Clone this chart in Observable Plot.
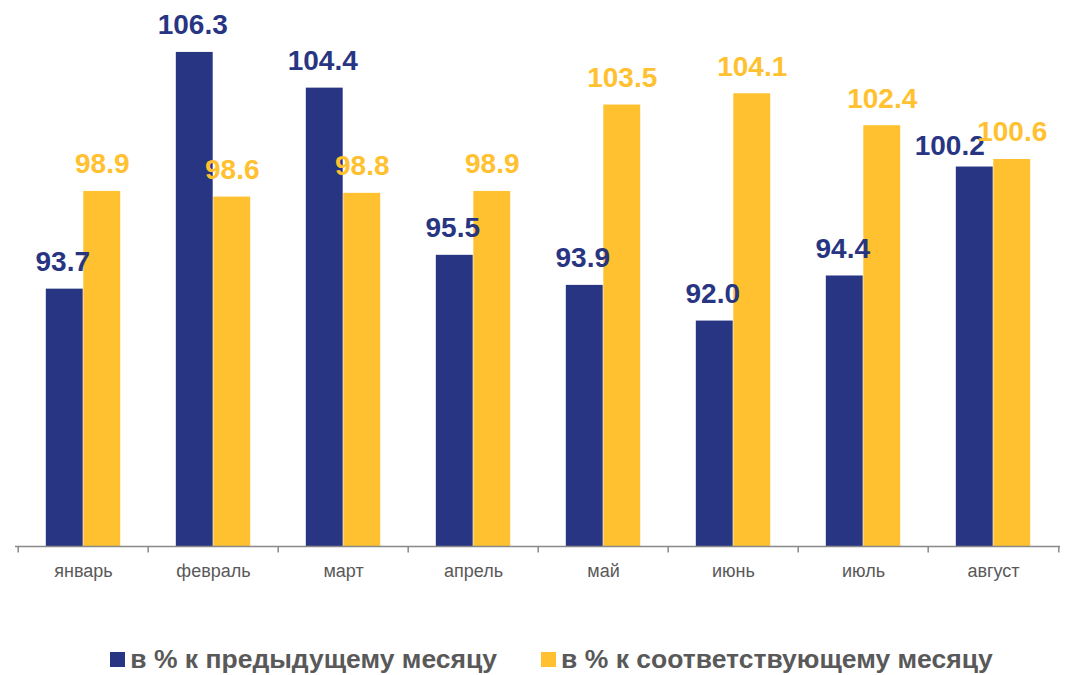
<!DOCTYPE html>
<html>
<head>
<meta charset="utf-8">
<script src="https://cdn.jsdelivr.net/npm/d3@7"></script>
<script src="https://cdn.jsdelivr.net/npm/@observablehq/plot@0.6"></script>
<style>
  html, body { margin: 0; padding: 0; background: #fff; }
  body { width: 1071px; height: 675px; overflow: hidden; font-family: "Liberation Sans", Arial, sans-serif; }
  #legend { display: flex; justify-content: center; gap: 44px; margin-top: 54px; padding-left: 32px; height: 30px; }
  .item { display: flex; align-items: center; font-weight: bold; font-size: 26.5px; color: #595959; line-height: 30px; }
  .sw { width: 15px; height: 15px; margin-right: 5px; }
</style>
</head>
<body>
<div id="chart"></div>
<div id="legend"></div>
<script>
const months = ["январь", "февраль", "март", "апрель", "май", "июнь", "июль", "август"];
const prevMonth = [93.7, 106.3, 104.4, 95.5, 93.9, 92.0, 94.4, 100.2];
const sameMonthLastYear = [98.9, 98.6, 98.8, 98.9, 103.5, 104.1, 102.4, 100.6];
const seriesNames = ["в % к предыдущему месяцу", "в % к соответствующему месяцу"];
const colors = ["#283583", "#FFC12F"];

const W = 1071, H = 590;
const mL = 15, mR = 11;
const bw = (W - mL - mR) / months.length;
const barW = 37.5;
const edge = (bw - 2 * barW) / 2;

const rows = [];
months.forEach((m, i) => {
  rows.push({month: m, series: 0, value: prevMonth[i], other: sameMonthLastYear[i]});
  rows.push({month: m, series: 1, value: sameMonthLastYear[i], other: prevMonth[i]});
});
const s0 = rows.filter(d => d.series === 0);
const s1 = rows.filter(d => d.series === 1);
// labels of near-equal pairs collide: nudge the left label aside
const close = d => Math.abs(d.value - d.other) < 1.5;
const s0a = s0.filter(d => !close(d));
const s0b = s0.filter(d => close(d));

const labelStyle = {fontSize: 28, fontWeight: "bold"};
const plot = Plot.plot({
  width: W, height: H,
  marginLeft: mL, marginRight: mR, marginTop: 20, marginBottom: 44,
  style: {fontFamily: '"Liberation Sans", Arial, sans-serif', background: "#fff"},
  x: {type: "band", domain: months, padding: 0, label: null},
  y: {domain: [80, 108], axis: null},
  marks: [
    Plot.barY(s0, {x: "month", y1: 80, y2: "value", fill: colors[0], insetLeft: edge, insetRight: edge + barW}),
    Plot.barY(s1, {x: "month", y1: 80, y2: "value", fill: colors[1], insetLeft: edge + barW, insetRight: edge}),
    Plot.text(s0a, {x: "month", y: "value", text: d => d.value.toFixed(1), dx: -barW / 2 - 2, dy: -27, fill: colors[0], ...labelStyle}),
    Plot.text(s0b, {x: "month", y: "value", text: d => d.value.toFixed(1), dx: -barW / 2 - 25, dy: -21, fill: colors[0], ...labelStyle}),
    Plot.text(s1, {x: "month", y: "value", text: d => d.value.toFixed(1), dx: barW / 2, dy: -27, fill: colors[1], ...labelStyle}),
    Plot.ruleY([80], {stroke: "#898989", strokeWidth: 1.5}),
    Plot.ruleX(months, {x: d => d, dx: -bw / 2, y1: 80, y2: 79.66, stroke: "#898989", strokeWidth: 1.5}),
    Plot.ruleX([months[months.length - 1]], {x: d => d, dx: bw / 2, y1: 80, y2: 79.66, stroke: "#898989", strokeWidth: 1.5}),
    Plot.axisX({tickSize: 0, tickPadding: 18, fontSize: 18, fill: "#595959", label: null})
  ]
});
document.getElementById("chart").appendChild(plot);

const legend = document.getElementById("legend");
seriesNames.forEach((n, i) => {
  const it = document.createElement("div");
  it.className = "item";
  it.innerHTML = `<span class="sw" style="background:${colors[i]}"></span><span>${n}</span>`;
  legend.appendChild(it);
});
</script>
</body>
</html>
